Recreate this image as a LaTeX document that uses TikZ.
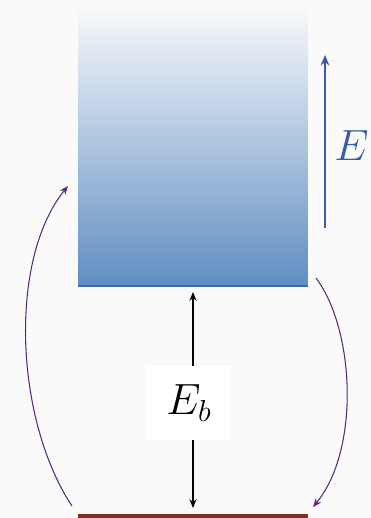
\documentclass[tikz,border=0pt]{standalone}
\usetikzlibrary{arrows.meta}
\definecolor{bgpaper}{RGB}{250,250,250}
\definecolor{bandtop}{RGB}{248,249,251}
\definecolor{bandmid}{RGB}{168,189,216}
\definecolor{bandbot}{RGB}{96,142,194}
\definecolor{bandline}{RGB}{62,108,170}
\definecolor{fieldblue}{RGB}{58,92,168}
\definecolor{levelred}{RGB}{140,40,40}
\definecolor{hopviolet}{RGB}{88,40,130}
\begin{document}
\begin{tikzpicture}[x=0.02cm,y=-0.02cm,
  band/.style={inner sep=0pt,minimum width=4.6cm,minimum height=5.56cm,
    top color=bandtop,middle color=bandmid,bottom color=bandbot},
  gap/.style={<->,>={Stealth[length=5pt,width=4pt]},line width=0.7pt},
  field/.style={->,>={Stealth[length=6pt,width=5pt]},fieldblue,line width=1pt},
  hop/.style={->,>={Stealth[length=5pt,width=4pt]},hopviolet,line width=0.6pt},
  lbl/.style={font=\fontsize{25}{30}\selectfont,inner sep=0pt}]
\useasboundingbox[fill=bgpaper] (0,0) rectangle (371,518);
\clip (0,0) rectangle (371,518);
\node[band] (cb) at (193,147) {};
\draw[bandline,line width=1.2pt] (cb.south west) -- (cb.south east);
\coordinate (vbw) at (78,516);
\coordinate (vbe) at (308,516);
\draw[levelred,line width=1.8pt] (vbw) -- (vbe);
\coordinate (gtop) at (193,292);
\coordinate (gbot) at (193,508);
\draw[gap] (gtop) -- (gbot);
\node[lbl,fill=white,minimum width=1.7cm,minimum height=1.5cm] (eb) at (189,403) {$E_b$};
\coordinate (ftail) at (325,228);
\coordinate (fhead) at (325,55);
\draw[field] (ftail) -- (fhead);
\node[lbl,anchor=east,text=fieldblue] (ef) at (369,146) {$E$};
\coordinate (upst) at (72,506);
\coordinate (upen) at (68,186);
\draw[hop] (upst) .. controls (15,420) and (8,260) .. (upen);
\coordinate (dnst) at (316,278);
\coordinate (dnen) at (313,507);
\draw[hop] (dnst) .. controls (355,330) and (360,450) .. (dnen);
\end{tikzpicture}
\end{document}
